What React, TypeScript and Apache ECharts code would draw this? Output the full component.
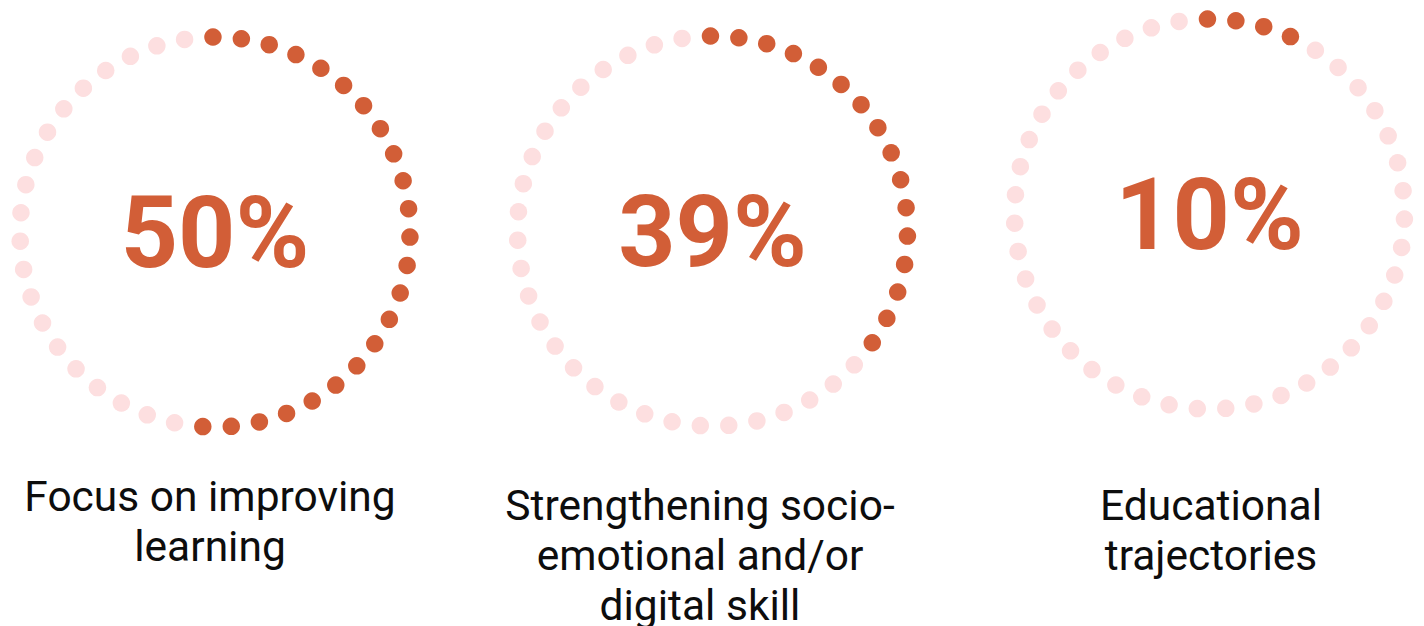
import React, { useEffect, useRef } from "react";
import * as echarts from "echarts";

// ---- data ----
const categories = [
  "Focus on improving\nlearning",
  "Strengthening socio-\nemotional and/or\ndigital skill",
  "Educational\ntrajectories",
];
const percentValues = [50, 39, 10];
const filledDots = [23, 16, 4];
const totalDots = 43;

// ---- layout ----
const circleCenters = [
  [215, 232],
  [712.5, 231],
  [1209.5, 214],
];
const labelPos = [
  [210, 471],
  [700, 480],
  [1211, 480],
];
const RADIUS = 195;
const DARK = "#D25E37";
const LIGHT = "#FDDFE0";
const ANGLE_OFFSET = -0.6;

export default function App() {
  const ref = useRef<HTMLDivElement>(null);
  useEffect(() => {
    document.body.style.margin = "0";
    if (!ref.current) return;
    const chart = echarts.init(ref.current, undefined, { renderer: "svg" });

    const polar = circleCenters.map((c) => ({ center: c, radius: RADIUS }));
    const angleAxis = circleCenters.map((_, k) => ({
      polarIndex: k,
      type: "value",
      min: 0,
      max: 360,
      startAngle: 90,
      clockwise: true,
      show: false,
      axisLine: { show: false },
      axisTick: { show: false },
      axisLabel: { show: false },
      splitLine: { show: false },
    }));
    const radiusAxis = circleCenters.map((_, k) => ({
      polarIndex: k,
      type: "value",
      min: 0,
      max: 1,
      show: false,
      axisLine: { show: false },
      axisTick: { show: false },
      axisLabel: { show: false },
      splitLine: { show: false },
    }));

    const step = 360 / totalDots;
    const series = percentValues.map((_, k) => {
      const data = [];
      for (let i = 0; i < totalDots; i++) {
        const a = (((i * step + ANGLE_OFFSET) % 360) + 360) % 360;
        data.push({
          value: [1, a],
          itemStyle: { color: i < filledDots[k] ? DARK : LIGHT, opacity: 1 },
        });
      }
      return {
        type: "scatter",
        coordinateSystem: "polar",
        polarIndex: k,
        symbol: "circle",
        symbolSize: 17.5,
        silent: true,
        itemStyle: { opacity: 1 },
        data,
      };
    });

    const graphic: any[] = [];
    percentValues.forEach((v, k) => {
      graphic.push({
        type: "text",
        x: circleCenters[k][0],
        y: circleCenters[k][1],
        silent: true,
        style: {
          text: `${v}%`,
          fill: DARK,
          fontFamily: "Roboto",
          fontWeight: "bold",
          fontSize: 100,
          align: "center",
          verticalAlign: "middle",
        },
      });
      graphic.push({
        type: "text",
        x: labelPos[k][0],
        y: labelPos[k][1],
        silent: true,
        style: {
          text: categories[k],
          fill: "#0d0d0d",
          fontFamily: "Roboto",
          fontSize: 42.5,
          lineHeight: 50,
          align: "center",
          verticalAlign: "top",
        },
      });
    });

    chart.setOption({
      animation: false,
      backgroundColor: "#ffffff",
      polar,
      angleAxis,
      radiusAxis,
      series,
      graphic,
    });
    return () => chart.dispose();
  }, []);
  return <div ref={ref} style={{ width: 1424, height: 626 }} />;
}
